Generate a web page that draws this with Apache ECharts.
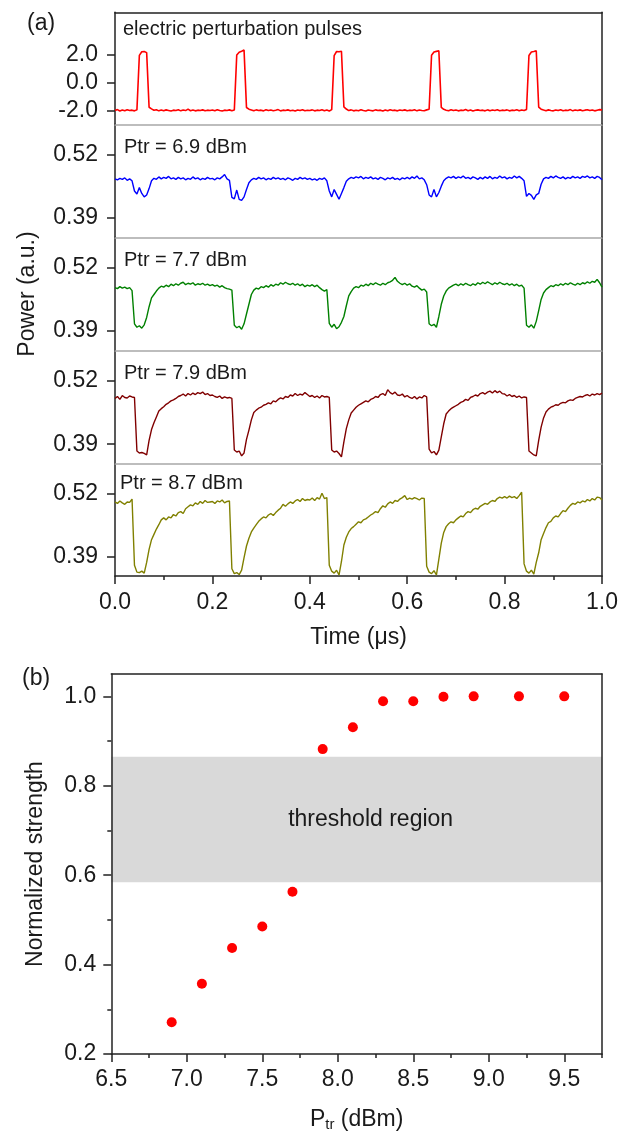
<!DOCTYPE html>
<html><head><meta charset="utf-8">
<script src="https://cdn.jsdelivr.net/npm/echarts@6/dist/echarts.min.js"></script>
<style>html,body{margin:0;padding:0;background:#fff}#c{width:632px;height:1134px}</style>
</head><body><div id="c"></div>
<script>
// ---------- Panel (a) data ----------
const timeUs = [
0,0.005,0.01,0.015,0.02,0.025,0.03,0.035,0.04,0.045,
0.05,0.055,0.06,0.065,0.07,0.075,0.08,0.085,0.09,0.095,
0.1,0.105,0.11,0.115,0.12,0.125,0.13,0.135,0.14,0.145,
0.15,0.155,0.16,0.165,0.17,0.175,0.18,0.185,0.19,0.195,
0.2,0.205,0.21,0.215,0.22,0.225,0.23,0.235,0.24,0.245,
0.25,0.255,0.26,0.265,0.27,0.275,0.28,0.285,0.29,0.295,
0.3,0.305,0.31,0.315,0.32,0.325,0.33,0.335,0.34,0.345,
0.35,0.355,0.36,0.365,0.37,0.375,0.38,0.385,0.39,0.395,
0.4,0.405,0.41,0.415,0.42,0.425,0.43,0.435,0.44,0.445,
0.45,0.455,0.46,0.465,0.47,0.475,0.48,0.485,0.49,0.495,
0.5,0.505,0.51,0.515,0.52,0.525,0.53,0.535,0.54,0.545,
0.55,0.555,0.56,0.565,0.57,0.575,0.58,0.585,0.59,0.595,
0.6,0.605,0.61,0.615,0.62,0.625,0.63,0.635,0.64,0.645,
0.65,0.655,0.66,0.665,0.67,0.675,0.68,0.685,0.69,0.695,
0.7,0.705,0.71,0.715,0.72,0.725,0.73,0.735,0.74,0.745,
0.75,0.755,0.76,0.765,0.77,0.775,0.78,0.785,0.79,0.795,
0.8,0.805,0.81,0.815,0.82,0.825,0.83,0.835,0.84,0.845,
0.85,0.855,0.86,0.865,0.87,0.875,0.88,0.885,0.89,0.895,
0.9,0.905,0.91,0.915,0.92,0.925,0.93,0.935,0.94,0.945,
0.95,0.955,0.96,0.965,0.97,0.975,0.98,0.985,0.99,0.995,
1.0];

const pulseVolt = [
-2.02,-1.95,-2.05,-1.98,-2.03,-1.96,-2.02,-1.99,-2.04,-1.97,
1.92,2.18,2.20,2.12,-1.78,-1.90,-2.00,-1.96,-2.04,-1.98,
-2.03,-1.97,-2.01,-2.05,-1.99,-2.02,-1.96,-2.04,-1.98,-2.02,
-1.92,-2.03,-1.98,-2.04,-1.99,-2.02,-1.97,-2.03,-1.99,-2.01,
-1.98,-2.03,-1.96,-2.02,-2.05,-1.99,-2.01,-1.97,-2.03,-1.98,
1.95,2.15,2.22,2.30,-1.80,-1.92,-1.98,-2.04,-1.97,-2.02,
-1.99,-2.04,-1.96,-2.02,-1.98,-2.03,-2.00,-1.95,-2.04,-1.99,
-2.02,-1.97,-2.03,-1.99,-2.05,-1.98,-2.02,-1.96,-2.03,-2.00,
-2.01,-1.97,-2.04,-1.99,-2.02,-1.96,-2.03,-1.98,-2.05,-1.95,
1.90,2.20,2.18,2.22,-1.76,-1.91,-2.02,-1.97,-2.04,-1.99,
-2.03,-1.96,-2.02,-2.05,-1.98,-2.01,-2.04,-1.97,-2.02,-1.99,
-2.05,-1.98,-2.03,-1.96,-2.02,-1.99,-2.04,-1.98,-2.01,-1.97,
-2.03,-1.99,-2.02,-1.96,-2.04,-1.98,-2.01,-2.03,-1.97,-1.93,
1.93,2.17,2.21,2.25,-1.79,-1.93,-1.99,-2.03,-1.96,-2.02,
-1.98,-2.04,-1.99,-2.02,-1.95,-2.03,-1.98,-2.05,-2.00,-1.97,
-2.02,-1.99,-2.04,-1.97,-2.03,-1.98,-2.01,-1.96,-2.03,-1.99,
-2.02,-1.97,-2.04,-1.99,-2.01,-1.96,-2.03,-1.98,-2.02,-1.94,
1.91,2.16,2.20,2.26,-1.77,-1.92,-1.98,-2.03,-1.97,-2.01,
-2.04,-1.98,-2.02,-1.96,-2.03,-1.99,-2.01,-1.95,-2.04,-1.98,
-2.02,-1.97,-2.03,-1.99,-1.96,-2.02,-1.98,-2.04,-1.99,-1.95,
-1.97];

const power69 = [
.470,.468,.471,.469,.472,.467,.470,.466,.445,.439,
.452,.440,.433,.437,.450,.466,.471,.469,.474,.470,
.473,.471,.475,.470,.472,.469,.473,.470,.472,.468,
.471,.469,.474,.470,.472,.468,.471,.469,.473,.470,
.471,.468,.472,.470,.474,.479,.470,.467,.432,.429,
.447,.428,.426,.433,.448,.462,.468,.471,.469,.473,
.470,.472,.468,.471,.469,.473,.470,.472,.469,.471,
.468,.472,.470,.467,.471,.469,.473,.470,.472,.469,
.471,.468,.470,.467,.471,.469,.472,.466,.445,.433,
.448,.438,.428,.440,.452,.465,.470,.473,.471,.474,
.472,.475,.470,.473,.471,.474,.470,.472,.469,.473,
.471,.468,.472,.470,.473,.469,.471,.468,.472,.470,
.473,.470,.474,.471,.476,.470,.472,.468,.458,.437,
.433,.448,.433,.442,.455,.466,.471,.474,.472,.475,
.471,.474,.472,.476,.471,.473,.470,.474,.472,.469,
.473,.470,.474,.471,.475,.470,.473,.471,.476,.472,
.474,.470,.473,.471,.476,.472,.475,.471,.466,.434,
.440,.436,.428,.437,.440,.459,.470,.473,.471,.475,
.472,.476,.473,.471,.474,.470,.473,.471,.475,.472,
.474,.471,.475,.473,.476,.472,.474,.471,.475,.473,
.468];

const power77 = [
.479,.477,.481,.478,.480,.477,.479,.473,.405,.398,
.401,.396,.403,.418,.440,.458,.465,.472,.478,.482,
.480,.484,.481,.486,.483,.487,.484,.488,.490,.485,
.488,.486,.489,.484,.487,.485,.488,.484,.486,.483,
.485,.482,.484,.480,.483,.479,.477,.476,.474,.402,
.397,.400,.394,.405,.425,.445,.465,.474,.478,.476,
.481,.479,.483,.480,.485,.482,.486,.484,.489,.486,
.490,.487,.485,.488,.484,.487,.483,.486,.481,.484,
.482,.485,.481,.484,.479,.475,.472,.475,.406,.398,
.404,.395,.399,.408,.420,.442,.462,.471,.478,.481,
.479,.484,.482,.486,.483,.488,.485,.489,.486,.484,
.488,.485,.489,.491,.494,.500,.492,.488,.485,.488,
.484,.487,.482,.480,.483,.478,.474,.476,.470,.405,
.401,.404,.398,.420,.445,.462,.472,.478,.481,.484,
.486,.483,.487,.484,.488,.485,.483,.487,.484,.489,
.486,.490,.487,.491,.488,.485,.489,.486,.490,.487,
.485,.488,.484,.487,.483,.486,.482,.484,.478,.402,
.398,.403,.396,.410,.432,.455,.468,.475,.479,.483,
.481,.485,.483,.487,.484,.488,.485,.489,.486,.484,
.488,.485,.489,.487,.491,.488,.492,.490,.496,.489,
.480];

const power79 = [
.484,.488,.482,.490,.486,.485,.489,.487,.486,.376,
.372,.373,.371,.368,.398,.420,.434,.446,.458,.463,
.467,.472,.475,.479,.481,.484,.488,.490,.493,.489,
.494,.491,.495,.492,.496,.494,.497,.492,.494,.490,
.491,.488,.486,.489,.484,.487,.485,.486,.484,.378,
.374,.376,.366,.372,.400,.419,.440,.455,.460,.464,
.466,.470,.472,.475,.473,.479,.477,.482,.485,.483,
.488,.486,.491,.489,.494,.490,.493,.491,.496,.492,
.488,.490,.486,.489,.485,.490,.487,.488,.486,.378,
.374,.376,.371,.364,.395,.422,.440,.454,.460,.466,
.470,.473,.476,.479,.477,.482,.484,.488,.486,.492,
.494,.490,.502,.496,.493,.497,.491,.490,.493,.487,
.490,.486,.484,.488,.483,.487,.485,.490,.487,.380,
.372,.375,.368,.378,.405,.432,.452,.458,.463,.466,
.469,.472,.476,.478,.482,.480,.486,.488,.491,.489,
.494,.496,.493,.497,.499,.495,.500,.496,.499,.494,
.493,.489,.492,.488,.490,.486,.489,.485,.487,.486,
.376,.372,.368,.366,.398,.425,.444,.456,.462,.466,
.468,.471,.470,.474,.476,.475,.479,.481,.480,.484,
.486,.488,.487,.490,.492,.489,.493,.491,.494,.492,
.495];

const power87 = [
.503,.500,.505,.501,.498,.503,.502,.509,.372,.358,
.357,.360,.356,.378,.405,.425,.436,.447,.456,.466,
.470,.466,.472,.470,.477,.474,.481,.483,.479,.489,
.493,.497,.495,.501,.498,.504,.500,.506,.502,.503,
.504,.500,.505,.503,.507,.501,.504,.505,.365,.355,
.357,.353,.362,.388,.412,.428,.441,.449,.456,.463,
.468,.472,.470,.476,.479,.475,.481,.486,.490,.498,
.494,.499,.503,.500,.505,.508,.504,.510,.506,.508,
.507,.511,.506,.512,.509,.521,.510,.512,.372,.360,
.356,.362,.352,.380,.414,.430,.441,.448,.452,.457,
.462,.460,.466,.468,.472,.476,.479,.483,.481,.489,
.495,.492,.499,.503,.500,.506,.504,.509,.512,.516,
.508,.511,.509,.512,.510,.507,.511,.510,.370,.358,
.355,.361,.352,.385,.418,.440,.452,.458,.462,.460,
.466,.470,.474,.472,.479,.483,.481,.487,.490,.488,
.494,.497,.500,.498,.503,.506,.504,.510,.513,.511,
.514,.511,.515,.512,.514,.510,.516,.523,.375,.360,
.356,.362,.354,.378,.398,.425,.438,.450,.460,.463,
.470,.474,.472,.479,.485,.483,.490,.496,.500,.498,
.503,.501,.505,.503,.508,.505,.510,.507,.513,.512,
.507];

const traceLabels = ['electric perturbation pulses', 'Ptr = 6.9 dBm', 'Ptr = 7.7 dBm', 'Ptr = 7.9 dBm', 'Ptr = 8.7 dBm'];
const pulseTicks = [-2, 0, 2];
const powerTicks = [0.39, 0.52];

// ---------- Panel (b) data ----------
const ptrDbm = [6.9, 7.1, 7.3, 7.5, 7.7, 7.9, 8.1, 8.3, 8.5, 8.7, 8.9, 9.2, 9.5];
const strength = [0.271, 0.357, 0.437, 0.485, 0.563, 0.882, 0.931, 0.989, 0.989, 0.999, 1.0, 1.0, 1.0];
const thresholdBand = [0.584, 0.865];
const ptrTicks = [6.5, 7.0, 7.5, 8.0, 8.5, 9.0, 9.5];
const ptrMinorTicks = [6.75, 7.25, 7.75, 8.25, 8.75, 9.25, 9.75];
const strengthTicks = [0.2, 0.4, 0.6, 0.8, 1.0];
const strengthMinorTicks = [0.3, 0.5, 0.7, 0.9];

// ---------- Build chart ----------
const FONT = '"Liberation Sans", Arial, Helvetica, sans-serif';
const INK = '#1a1a1a';
const AXC = '#222';
const SEP = '#a8a8a8';

const traces = [pulseVolt, power69, power77, power79, power87];
const traceColors = ['#ff0000', '#0000ff', '#008000', '#800000', '#808000'];
const traceWidths = [1.6, 1.4, 1.4, 1.4, 1.4];
const gridTops = [12.3, 124.3, 237.3, 350.7, 463.7];
const gridHeights = [112, 113, 113.4, 113, 112.3];
const labelTops = [19, 137.5, 250, 363, 473];
const labelLefts = [123, 124, 124, 124, 120];

const grid = gridTops.map((t, i) => ({left: 115, width: 487, top: t, height: gridHeights[i], outerBoundsMode: 'none', containLabel: false}));
grid.push({left: 111.3, width: 490.7, top: 674, height: 380, outerBoundsMode: 'none', containLabel: false});

const xAxis = [];
const yAxis = [];
const series = [];

for (let i = 0; i < 5; i++) {
  const last = i === 4;
  xAxis.push({
    gridIndex: i, type: 'value', min: 0, max: 1, interval: 0.2, position: 'bottom',
    axisLine: {show: true, onZero: false, lineStyle: {color: last ? AXC : SEP, width: 1.5}},
    axisTick: {show: last, inside: false, length: 8, lineStyle: {color: AXC, width: 1.5}},
    minorTick: {show: last, splitNumber: 2, length: 4, lineStyle: {color: AXC, width: 1.5}},
    axisLabel: {show: last, fontSize: 23, fontFamily: FONT, color: INK, margin: 15, formatter: v => v.toFixed(1)},
    splitLine: {show: false},
    name: last ? 'Time (μs)' : '', nameLocation: 'middle', nameGap: 50,
    nameTextStyle: {fontSize: 23, fontFamily: FONT, color: INK}
  });
}
// top border of panel (a)
xAxis.push({gridIndex: 0, type: 'value', min: 0, max: 1, position: 'top',
  axisLine: {show: true, onZero: false, lineStyle: {color: AXC, width: 1.5}},
  axisTick: {show: false}, axisLabel: {show: false}, splitLine: {show: false}});

for (let i = 0; i < 5; i++) {
  const ticks = i === 0 ? pulseTicks : powerTicks;
  yAxis.push({
    gridIndex: i, type: 'value', min: i === 0 ? -3 : 0.35, max: i === 0 ? 5 : 0.582, position: 'left',
    axisLine: {show: true, onZero: false, lineStyle: {color: AXC, width: 1.5}},
    axisTick: {show: true, inside: false, length: 8, customValues: ticks, lineStyle: {color: AXC, width: 1.5}},
    axisLabel: {show: true, customValues: ticks, fontSize: 23, fontFamily: FONT, color: INK, margin: 17,
      formatter: v => i === 0 ? Number(v).toFixed(1) : Number(v).toFixed(2)},
    splitLine: {show: false},
    name: i === 2 ? 'Power (a.u.)' : '', nameLocation: 'middle', nameGap: 76,
    nameTextStyle: {fontSize: 23, fontFamily: FONT, color: INK}
  });
}
for (let i = 0; i < 5; i++) {
  yAxis.push({
    gridIndex: i, type: 'value', min: i === 0 ? -3 : 0.35, max: i === 0 ? 5 : 0.582, position: 'right',
    axisLine: {show: true, onZero: false, lineStyle: {color: AXC, width: 1.5}},
    axisTick: {show: false}, axisLabel: {show: false}, splitLine: {show: false}
  });
}
for (let i = 0; i < 5; i++) {
  series.push({
    type: 'line', xAxisIndex: i, yAxisIndex: i, showSymbol: false, symbol: 'none',
    data: timeUs.map((t, k) => [t, traces[i][k]]),
    lineStyle: {color: traceColors[i], width: traceWidths[i]}, itemStyle: {color: traceColors[i]},
    animation: false, silent: true
  });
}

// Panel (b) axes
const xb = xAxis.length;
xAxis.push({
  gridIndex: 5, type: 'value', min: 6.5, max: 9.75, interval: 0.5, position: 'bottom', z: 5,
  axisLine: {show: true, onZero: false, lineStyle: {color: AXC, width: 1.5}},
  axisTick: {show: true, inside: false, length: 8, customValues: ptrTicks, lineStyle: {color: AXC, width: 1.5}},
  axisLabel: {show: true, customValues: ptrTicks, fontSize: 23, fontFamily: FONT, color: INK, margin: 14,
    formatter: v => Number(v).toFixed(1)},
  splitLine: {show: false},
  name: '{a|P}{b|tr}{a| (dBm)}', nameLocation: 'middle', nameGap: 53,
  nameTextStyle: {fontSize: 23, fontFamily: FONT, color: INK,
    rich: {a: {fontSize: 23, fontFamily: FONT, color: INK}, b: {fontSize: 15, fontFamily: FONT, color: INK, padding: [10, 0, 0, 0]}}}
});
xAxis.push({
  gridIndex: 5, type: 'value', min: 6.5, max: 9.75, position: 'bottom', z: 5,
  axisLine: {show: false},
  axisTick: {show: true, inside: false, length: 4, customValues: ptrMinorTicks, lineStyle: {color: AXC, width: 1.5}},
  axisLabel: {show: false}, splitLine: {show: false}
});
xAxis.push({
  gridIndex: 5, type: 'value', min: 6.5, max: 9.75, position: 'top', z: 5,
  axisLine: {show: true, onZero: false, lineStyle: {color: AXC, width: 1.5}},
  axisTick: {show: false}, axisLabel: {show: false}, splitLine: {show: false}
});
const yb = yAxis.length;
yAxis.push({
  gridIndex: 5, type: 'value', min: 0.2, max: 1.05, position: 'left', z: 5,
  axisLine: {show: true, onZero: false, lineStyle: {color: AXC, width: 1.5}},
  axisTick: {show: true, inside: false, length: 8, customValues: strengthTicks, lineStyle: {color: AXC, width: 1.5}},
  axisLabel: {show: true, customValues: strengthTicks, fontSize: 23, fontFamily: FONT, color: INK, margin: 15,
    formatter: v => Number(v).toFixed(1)},
  splitLine: {show: false},
  name: 'Normalized strength', nameLocation: 'middle', nameGap: 64,
  nameTextStyle: {fontSize: 23, fontFamily: FONT, color: INK}
});
yAxis.push({
  gridIndex: 5, type: 'value', min: 0.2, max: 1.05, position: 'left', z: 5,
  axisLine: {show: false},
  axisTick: {show: true, inside: false, length: 4, customValues: strengthMinorTicks, lineStyle: {color: AXC, width: 1.5}},
  axisLabel: {show: false}, splitLine: {show: false}
});
yAxis.push({
  gridIndex: 5, type: 'value', min: 0.2, max: 1.05, position: 'right', z: 5,
  axisLine: {show: true, onZero: false, lineStyle: {color: AXC, width: 1.5}},
  axisTick: {show: false}, axisLabel: {show: false}, splitLine: {show: false}
});

series.push({
  type: 'scatter', xAxisIndex: xb, yAxisIndex: yb, symbol: 'circle', symbolSize: 10,
  itemStyle: {color: '#ff0000', opacity: 1}, z: 3,
  data: ptrDbm.map((x, k) => [x, strength[k]]),
  markArea: {
    silent: true, itemStyle: {color: '#d9d9d9', opacity: 1},
    label: {show: true, position: 'inside', formatter: 'threshold region', fontSize: 23, fontFamily: FONT, color: INK, offset: [14, 0]},
    data: [[{yAxis: thresholdBand[0]}, {yAxis: thresholdBand[1]}]]
  },
  animation: false
});

const titleStyle = (fs) => ({fontSize: fs, fontWeight: 'normal', fontFamily: FONT, color: INK});
const title = [
  {text: '(a)', left: 27, top: 12, padding: 0, textStyle: titleStyle(23)},
  {text: '(b)', left: 22, top: 667, padding: 0, textStyle: titleStyle(23)}
];
traceLabels.forEach((s, i) => title.push({text: s, left: labelLefts[i], top: labelTops[i], padding: 0, textStyle: titleStyle(20)}));

const chart = echarts.init(document.getElementById('c'), null, {renderer: 'canvas', width: 632, height: 1134});
chart.setOption({animation: false, backgroundColor: '#fff', title, grid, xAxis, yAxis, series});
</script>
</body></html>
